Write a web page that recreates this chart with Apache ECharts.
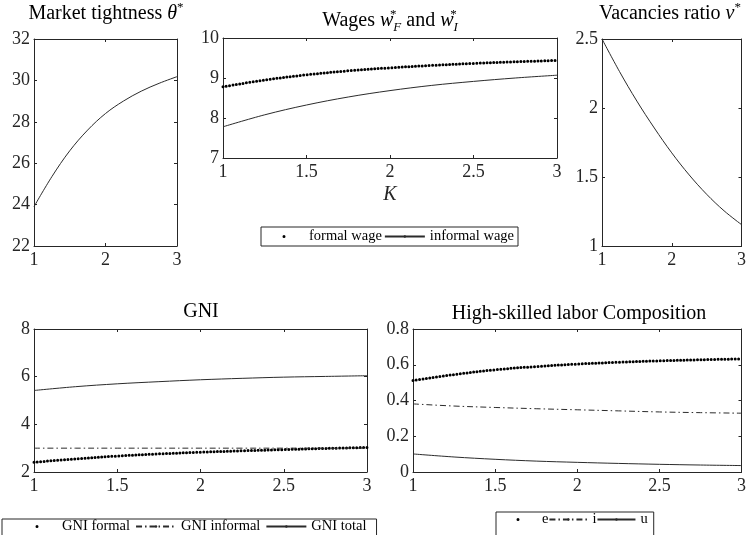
<!DOCTYPE html>
<html>
<head>
<meta charset="utf-8">
<script src="https://cdn.jsdelivr.net/npm/echarts@6/dist/echarts.min.js"></script>
<style>
html,body{margin:0;padding:0;background:#fff;}
#chart{width:749px;height:535px;}
</style>
</head>
<body>
<div id="chart"></div>
<script>
// ---- data ----
const K = [1, 1.25, 1.5, 1.75, 2, 2.25, 2.5, 2.75, 3];
const thetaStar    = [23.9, 25.35, 26.6, 27.6, 28.4, 29.0, 29.48, 29.86, 30.18];
const wageFormal   = [8.78, 8.95, 9.08, 9.18, 9.255, 9.315, 9.365, 9.405, 9.44];
const wageInformal = [7.78, 8.08, 8.325, 8.525, 8.685, 8.815, 8.915, 9.0, 9.07];
const vacRatio     = [2.5, 2.265, 2.05, 1.855, 1.675, 1.515, 1.375, 1.255, 1.155];
const gniFormal    = [2.41, 2.55, 2.67, 2.76, 2.83, 2.89, 2.94, 2.99, 3.03];
const gniInformal  = [3.0, 3.0, 3.0, 3.0, 3.0, 3.0, 3.0, 3.0, 3.0];
const gniTotal     = [5.42, 5.58, 5.70, 5.79, 5.87, 5.93, 5.98, 6.01, 6.04];
const compE        = [0.512, 0.545, 0.572, 0.590, 0.604, 0.614, 0.622, 0.628, 0.633];
const compI        = [0.381, 0.369, 0.361, 0.354, 0.348, 0.342, 0.336, 0.332, 0.329];
const compU        = [0.101, 0.084, 0.071, 0.061, 0.054, 0.048, 0.043, 0.039, 0.036];

// tick labels
const xTicksCoarse = [1, 2, 3];
const xTicksFine   = [1, 1.5, 2, 2.5, 3];
const thetaTicks   = [22, 24, 26, 28, 30, 32];
const wageTicks    = [7, 8, 9, 10];
const vacTicks     = [1, 1.5, 2, 2.5];
const gniTicks     = [2, 4, 6, 8];
const compTicks    = [0, 0.2, 0.4, 0.6, 0.8];

// ---- styling ----
const FONT = 'Liberation Serif';
const AX = '#262626';
const LINE = '#2b2b2b';

const grids = [
  {left: 34,  top: 39,  width: 143, height: 207},
  {left: 223, top: 38,  width: 334, height: 120},
  {left: 602, top: 39,  width: 144, height: 207},
  {left: 34,  top: 329, width: 333, height: 143},
  {left: 413, top: 329, width: 334, height: 143}
];
const xTickSets = [xTicksCoarse, xTicksFine, xTicksCoarse, xTicksFine, xTicksFine];
const yTickSets = [thetaTicks, wageTicks, vacTicks, gniTicks, compTicks];

function range(t){ return {min: t[0], max: t[t.length-1], interval: t[1]-t[0]}; }

const xAxes = [], yAxes = [];
grids.forEach((g, i) => {
  const xr = range(xTickSets[i]), yr = range(yTickSets[i]);
  const common = {
    type: 'value', gridIndex: i, splitLine: {show: false},
    axisLine: {show: true, onZero: false, lineStyle: {color: AX, width: 1}},
    axisTick: {show: true, inside: true, length: 3, lineStyle: {color: AX}}
  };
  const lab = {show: true, color: AX, fontFamily: FONT, fontSize: 18, margin: 5};
  const xb = Object.assign({}, common, xr, {position: 'bottom', axisLabel: lab});
  if (i === 1) {
    xb.name = 'K'; xb.nameLocation = 'middle'; xb.nameGap = 27;
    xb.nameTextStyle = {fontFamily: FONT, fontStyle: 'italic', fontSize: 20, color: AX};
  }
  xAxes.push(xb);
  xAxes.push(Object.assign({}, common, xr, {position: 'top', axisLabel: {show: false}}));
  yAxes.push(Object.assign({}, common, yr, {position: 'left', axisLabel: Object.assign({}, lab, {margin: 4})}));
  yAxes.push(Object.assign({}, common, yr, {position: 'right', axisLabel: {show: false}}));
});

function pairs(ys){ return K.map((k, j) => [k, ys[j]]); }
function solid(name, gi, ys){
  return {type: 'line', name, xAxisIndex: gi*2, yAxisIndex: gi*2, data: pairs(ys),
    symbol: 'none', showSymbol: false, smooth: 0.35, silent: true,
    itemStyle: {color: LINE}, lineStyle: {color: LINE, width: 1}};
}
function dashdot(name, gi, ys){
  const s = solid(name, gi, ys);
  s.lineStyle = {color: LINE, width: 1, type: [6, 3, 1.5, 3]};
  return s;
}
function dotted(name, gi, ys){
  const s = solid(name, gi, ys);
  s.itemStyle = {color: '#000'};
  s.lineStyle = {color: '#000', width: 3, type: [0, 3.4], cap: 'round'};
  return s;
}

const series = [
  solid('theta', 0, thetaStar),
  dotted('formal wage', 1, wageFormal),
  solid('informal wage', 1, wageInformal),
  solid('vacancies', 2, vacRatio),
  dotted('GNI formal', 3, gniFormal),
  dashdot('GNI informal', 3, gniInformal),
  solid('GNI total', 3, gniTotal),
  dotted('e', 4, compE),
  dashdot('i', 4, compI),
  solid('u', 4, compU)
];

const rich = {
  it:   {fontFamily: FONT, fontSize: 20, fontStyle: 'italic', color: '#000'},
  sup:  {fontFamily: FONT, fontSize: 13, verticalAlign: 'top', lineHeight: 13, color: '#000'},
  supz: {fontFamily: FONT, fontSize: 13, verticalAlign: 'top', lineHeight: 13, width: 0, color: '#000'},
  sub:  {fontFamily: FONT, fontSize: 13, fontStyle: 'italic', verticalAlign: 'bottom', lineHeight: 13, color: '#000'}
};
function title(text, x, y){
  return {text, left: x, top: y, textAlign: 'center', textVerticalAlign: 'middle', padding: 0,
    textStyle: {fontFamily: FONT, fontSize: 20, fontWeight: 'normal', color: '#000', lineHeight: 26, rich}};
}

function dotIcon(w){
  const c = w / 2;
  return 'path://M0,0L0.01,0M' + w + ',3L' + (w - 0.01) + ',3M' + (c - 1.5) + ',1.5a1.5,1.5 0 1 0 3,0a1.5,1.5 0 1 0 -3,0Z';
}

function legend(names, dotFirst, left, top, padding, iw, gap){
  return {
    left, top, orient: 'horizontal', selectedMode: false,
    itemWidth: iw, itemHeight: 3, itemGap: gap, padding,
    borderColor: AX, borderWidth: 1, borderRadius: 0, backgroundColor: '#fff',
    textStyle: {fontFamily: FONT, fontSize: 14.5, color: '#000'},
    data: names.map((n, j) => (j === 0 && dotFirst) ? {name: n, icon: dotIcon(iw)} : {name: n})
  };
}

const option = {
  animation: false,
  backgroundColor: '#fff',
  title: [
    title('Market tightness {it|θ}{sup|*}', 106, 14),
    title('Wages {it|w}{supz|*}{sub|F} and {it|w}{supz|*}{sub|I}', 390, 21),
    title('Vacancies ratio {it|v}{sup|*}', 670, 14),
    title('GNI', 201, 312),
    title('High-skilled labor Composition', 579, 314)
  ],
  legend: [
    legend(['formal wage', 'informal wage'], true, 261, 227, [2, 4, 2, 3], 40, 2),
    legend(['GNI formal', 'GNI informal', 'GNI total'], true, 2, 519, [0, 10, 12, 15], 40, 5),
    legend(['e', 'i', 'u'], true, 496, 512, [0, 6, 12, 3], 38, 0)
  ],
  grid: grids.map(g => Object.assign({containLabel: false}, g)),
  xAxis: xAxes,
  yAxis: yAxes,
  series
};

const chart = echarts.init(document.getElementById('chart'), null, {renderer: 'canvas'});
chart.setOption(option);
</script>
</body>
</html>
